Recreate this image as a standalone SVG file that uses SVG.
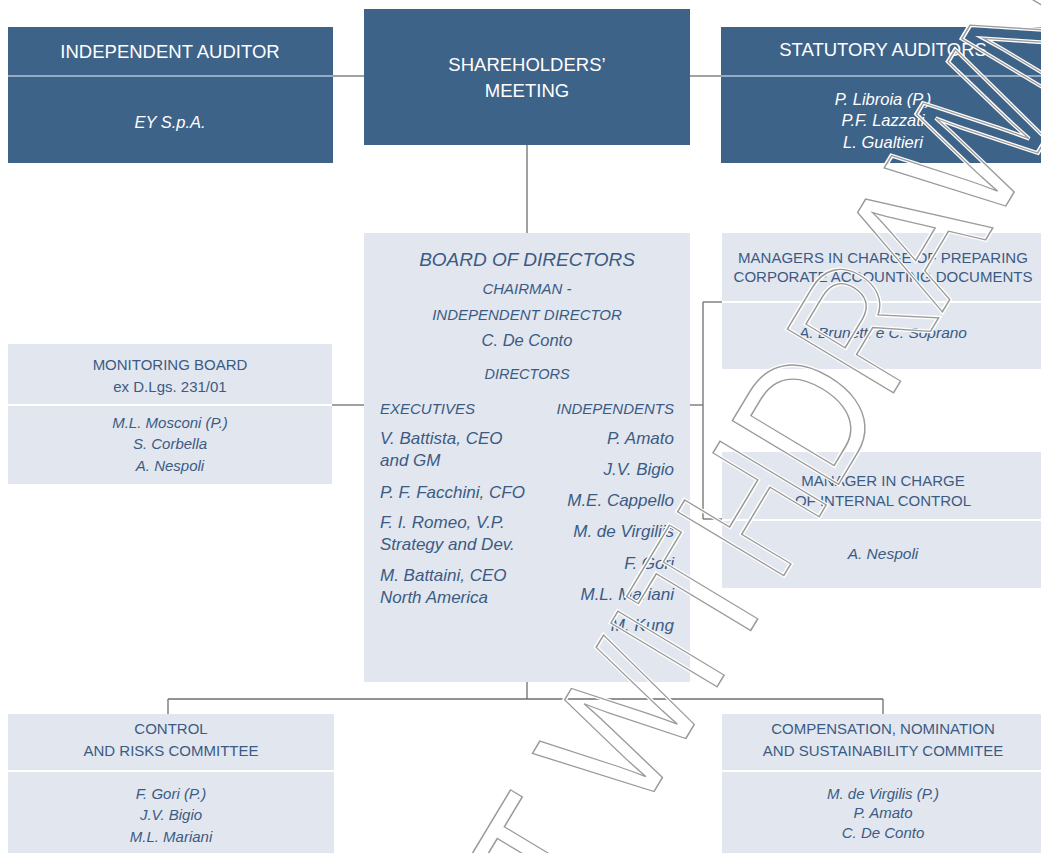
<svg xmlns="http://www.w3.org/2000/svg" width="1041" height="853" viewBox="0 0 1041 853">
<style>
text{font-family:"Liberation Sans",Arial,sans-serif;text-anchor:middle}
.dark{fill:#3e6389}
.light{fill:#e2e6ef}
.dh{fill:#ffffff;font-size:18.5px}
.dn{fill:#ffffff;font-size:16.5px;font-style:italic}
.lh{fill:#3b5b83;font-size:15px}
.ln{fill:#3b5b83;font-size:15px;font-style:italic}
.bd{fill:#3b5b83;font-style:italic}
.ddiv{stroke:#b4c2d3;stroke-width:1.5}
.ldiv{stroke:#ffffff;stroke-width:2}
.conn line{stroke:#6e6e6e;stroke-width:1.3;fill:none}
.wm{font-family:"Liberation Sans",Arial,sans-serif;font-size:180px;fill:none;text-anchor:start}
</style>
<rect width="1041" height="853" fill="#ffffff"/>

<g class="conn" id="connectors">
<line x1="333" y1="76" x2="364" y2="76"/>
<line x1="690" y1="76" x2="721" y2="76"/>
<line x1="527" y1="145" x2="527" y2="233"/>
<line x1="332" y1="405" x2="364" y2="405"/>
<line x1="690" y1="405" x2="703" y2="405"/>
<line x1="703" y1="302" x2="703" y2="519"/>
<line x1="703" y1="302" x2="722" y2="302"/>
<line x1="703" y1="519" x2="722" y2="519"/>
<line x1="527" y1="682" x2="527" y2="699"/>
<line x1="168" y1="699" x2="883" y2="699"/>
<line x1="168" y1="699" x2="168" y2="714"/>
<line x1="883" y1="699" x2="883" y2="714"/>
</g>

<g id="independent-auditor">
<rect class="dark" x="8" y="27" width="325" height="136"/>
<line class="ddiv" x1="8" y1="76" x2="333" y2="76"/>
<text class="dh" x="170" y="58">INDEPENDENT AUDITOR</text>
<text class="dn" x="170" y="128">EY S.p.A.</text>
</g>

<g id="shareholders-meeting">
<rect class="dark" x="364" y="9" width="326" height="136"/>
<text class="dh" x="527" y="71">SHAREHOLDERS’</text>
<text class="dh" x="527" y="97">MEETING</text>
</g>

<g id="statutory-auditors">
<rect class="dark" x="721" y="27" width="320" height="136"/>
<line class="ddiv" x1="721" y1="76" x2="1041" y2="76"/>
<text class="dh" x="883" y="56">STATUTORY AUDITORS</text>
<text class="dn" x="883" y="105">P. Libroia (P.)</text>
<text class="dn" x="883" y="126">P.F. Lazzati</text>
<text class="dn" x="883" y="148">L. Gualtieri</text>
</g>

<g id="board-of-directors">
<rect class="light" x="364" y="233" width="326" height="449"/>
<text class="bd" x="527" y="266" style="font-size:19px">BOARD OF DIRECTORS</text>
<text class="bd" x="527" y="294" style="font-size:15px">CHAIRMAN -</text>
<text class="bd" x="527" y="320" style="font-size:15px">INDEPENDENT DIRECTOR</text>
<text class="bd" x="527" y="346" style="font-size:16.5px">C. De Conto</text>
<text class="bd" x="527" y="379" style="font-size:14.5px">DIRECTORS</text>
<g style="font-size:15px">
<text class="bd" x="380" y="414" style="text-anchor:start">EXECUTIVES</text>
<text class="bd" x="674" y="414" style="text-anchor:end">INDEPENDENTS</text>
</g>
<g style="font-size:17px">
<text class="bd" x="380" y="444" style="text-anchor:start">V. Battista, CEO</text>
<text class="bd" x="380" y="466" style="text-anchor:start">and GM</text>
<text class="bd" x="380" y="498" style="text-anchor:start">P. F. Facchini, CFO</text>
<text class="bd" x="380" y="528" style="text-anchor:start">F. I. Romeo, V.P.</text>
<text class="bd" x="380" y="550" style="text-anchor:start">Strategy and Dev.</text>
<text class="bd" x="380" y="581" style="text-anchor:start">M. Battaini, CEO</text>
<text class="bd" x="380" y="603" style="text-anchor:start">North America</text>
<text class="bd" x="674" y="444" style="text-anchor:end">P. Amato</text>
<text class="bd" x="674" y="475" style="text-anchor:end">J.V. Bigio</text>
<text class="bd" x="674" y="506" style="text-anchor:end">M.E. Cappello</text>
<text class="bd" x="674" y="537" style="text-anchor:end">M. de Virgiliis</text>
<text class="bd" x="674" y="569" style="text-anchor:end">F. Gori</text>
<text class="bd" x="674" y="600" style="text-anchor:end">M.L. Mariani</text>
<text class="bd" x="674" y="631" style="text-anchor:end">M. Kung</text>
</g>
</g>

<g id="monitoring-board">
<rect class="light" x="8" y="344" width="324" height="140"/>
<line class="ldiv" x1="8" y1="405" x2="332" y2="405"/>
<text class="lh" x="170" y="370">MONITORING BOARD</text>
<text class="lh" x="170" y="392">ex D.Lgs. 231/01</text>
<text class="ln" x="170" y="428">M.L. Mosconi (P.)</text>
<text class="ln" x="170" y="449">S. Corbella</text>
<text class="ln" x="170" y="471">A. Nespoli</text>
</g>

<g id="managers-accounting">
<rect class="light" x="722" y="233" width="319" height="136"/>
<line class="ldiv" x1="722" y1="302" x2="1041" y2="302"/>
<text class="lh" x="883" y="263">MANAGERS IN CHARGE OF PREPARING</text>
<text class="lh" x="883" y="282">CORPORATE ACCOUNTING DOCUMENTS</text>
<text class="ln" x="883" y="338" style="font-size:15.5px">A. Brunetti e C. Soprano</text>
</g>

<g id="manager-internal-control">
<rect class="light" x="722" y="452" width="319" height="136"/>
<line class="ldiv" x1="722" y1="520" x2="1041" y2="520"/>
<text class="lh" x="883" y="486">MANAGER IN CHARGE</text>
<text class="lh" x="883" y="506">OF INTERNAL CONTROL</text>
<text class="ln" x="883" y="559" style="font-size:15.5px">A. Nespoli</text>
</g>

<g id="control-risks-committee">
<rect class="light" x="8" y="714" width="326" height="139"/>
<line class="ldiv" x1="8" y1="771" x2="334" y2="771"/>
<text class="lh" x="171" y="734">CONTROL</text>
<text class="lh" x="171" y="756">AND RISKS COMMITTEE</text>
<text class="ln" x="171" y="799">F. Gori (P.)</text>
<text class="ln" x="171" y="820">J.V. Bigio</text>
<text class="ln" x="171" y="842">M.L. Mariani</text>
</g>

<g id="compensation-committee">
<rect class="light" x="722" y="714" width="319" height="139"/>
<line class="ldiv" x1="722" y1="771" x2="1041" y2="771"/>
<text class="lh" x="883" y="734">COMPENSATION, NOMINATION</text>
<text class="lh" x="883" y="756">AND SUSTAINABILITY COMMITEE</text>
<text class="ln" x="883" y="799">M. de Virgilis (P.)</text>
<text class="ln" x="883" y="818">P. Amato</text>
<text class="ln" x="883" y="838">C. De Conto</text>
</g>

<g id="watermark" transform="translate(572,928) rotate(-59) scale(0.82,1)">
<text class="wm" x="0" y="0" stroke="#ffffff" stroke-width="4.5">T WITHDRAWN</text>
<text class="wm" x="0" y="0" stroke="#9a9a9a" stroke-width="1.5">T WITHDRAWN</text>
</g>
</svg>
